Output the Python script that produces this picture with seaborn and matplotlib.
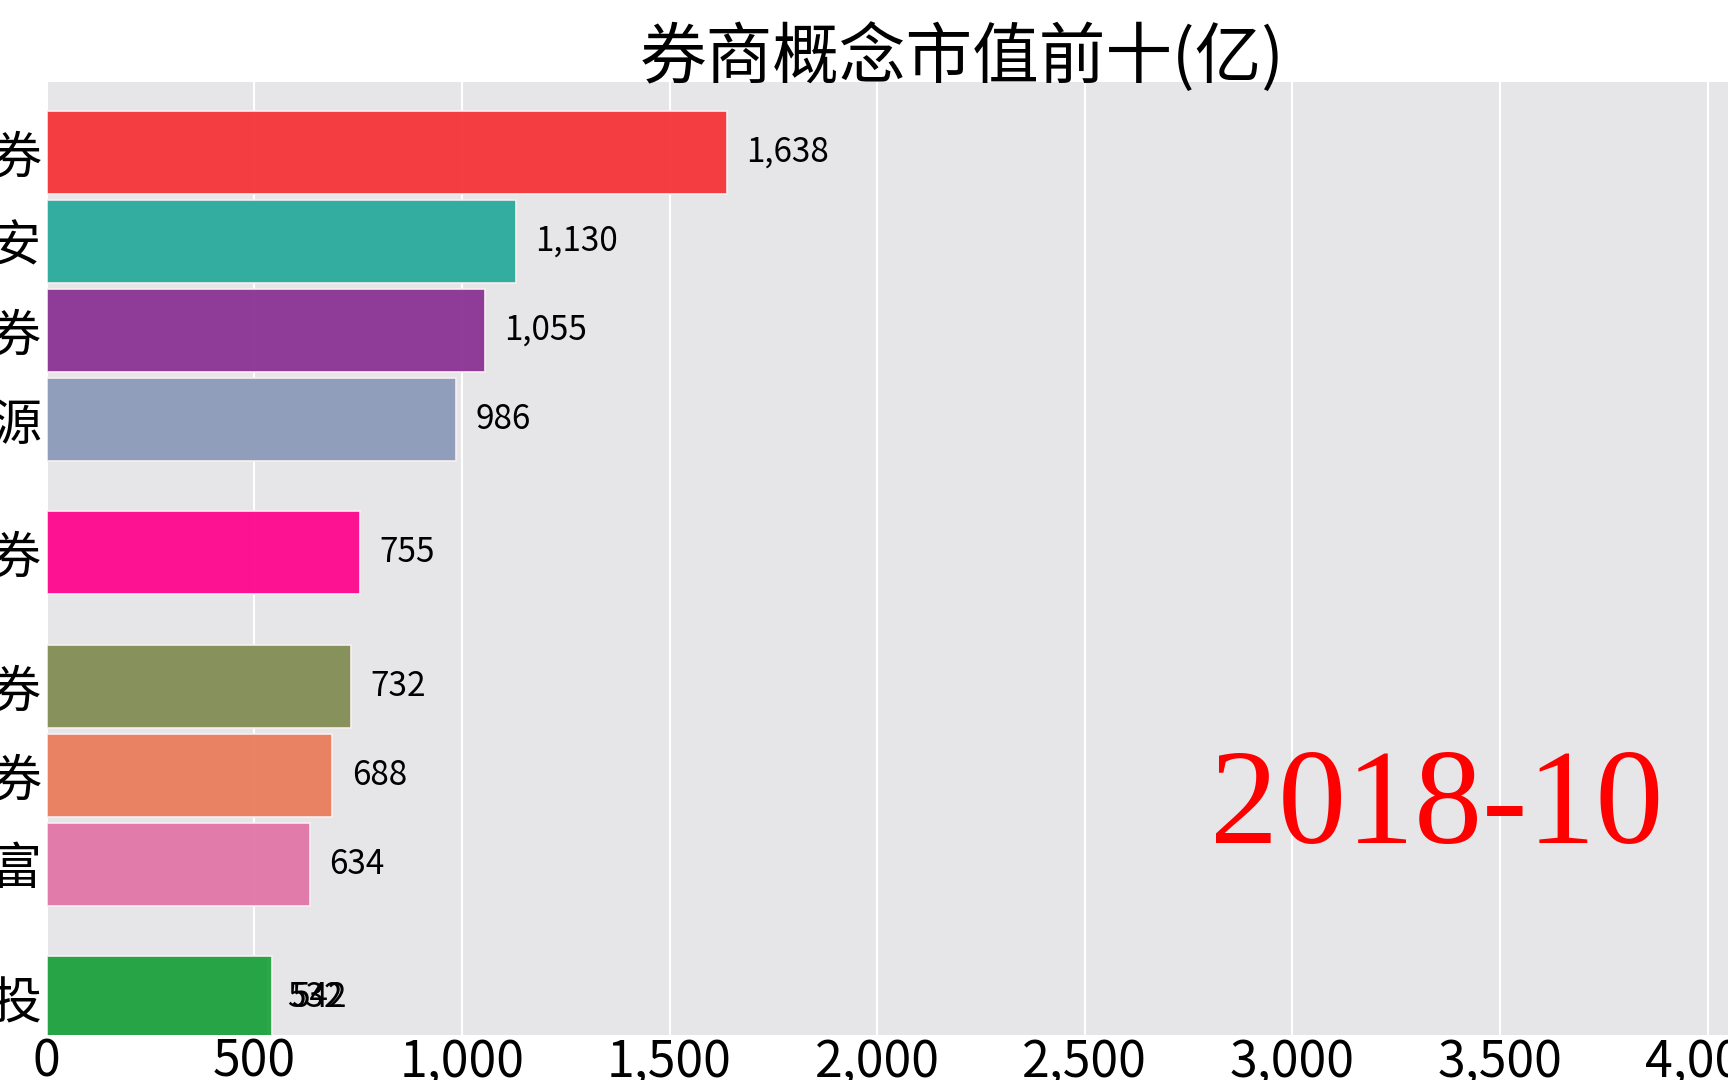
import matplotlib
matplotlib.use("Agg")
import matplotlib.pyplot as plt
import matplotlib.ticker as mticker
from matplotlib import font_manager
import seaborn as sns
import pandas as pd

# ---- data (one animation frame: 2018-10) ----
names = ["中信建投证券", "中信证券", "国泰君安", "海通证券", "申万宏源",
         "华泰证券", "招商证券", "广发证券", "东方财富", "中信建投"]
values = [532, 1638, 1130, 1055, 986, 755, 732, 688, 634, 542]
ranks = [9.5, 0, 1, 2, 3, 4.5, 6, 7, 8, 9.5]   # interpolated rank in the frame
colors = ["#5aa86a", "#f5373b", "#2cab9d", "#8b3696", "#8d9bba",
          "#fe0b8f", "#838e56", "#e97f5e", "#e179a8", "#26a444"]
visible = [False, True, True, True, True, True, True, True, True, True]
title = "券商概念市值前十(亿)"
date_label = "2018-10"
xticks = [0, 500, 1000, 1500, 2000, 2500, 3000, 3500, 4000]

df = pd.DataFrame({"name": names, "value": values, "rank": ranks})

sns.set_theme(style="darkgrid")
plt.rcParams["font.family"] = ["Noto Sans CJK SC", "DejaVu Sans"]
plt.rcParams["axes.unicode_minus"] = False

installed = {f.name for f in font_manager.fontManager.ttflist}
num_family = ["Liberation Sans Narrow", "Noto Sans CJK SC"] if "Liberation Sans Narrow" in installed \
    else ["Noto Sans CJK SC", "DejaVu Sans"]

W, H = 1728, 1080
fig = plt.figure(figsize=(W / 100, H / 100), dpi=100)
ax_left, ax_right, ax_top, ax_bottom = 46.7, 1877, 82, 1035
ax = fig.add_axes([ax_left / W, 1 - ax_bottom / H,
                   (ax_right - ax_left) / W, (ax_bottom - ax_top) / H])
ax.set_facecolor("#e6e6e9")

sns.barplot(data=df, x="value", y="rank", hue="name", hue_order=names,
            palette=colors, saturation=1, orient="h", native_scale=True, dodge=False,
            width=0.935, alpha=0.97, edgecolor="#fbeff0", linewidth=1.2,
            legend=False, ax=ax, zorder=2)

ax.set_xlim(0, (ax_right - ax_left) / 207.6 * 500)
ax.set_ylim(9.92, -0.79)

ax.set_xticks(xticks)
ax.xaxis.set_major_formatter(mticker.FuncFormatter(lambda v, p: f"{v:,.0f}"))
vis_ranks = [r for r, v in zip(ranks, visible) if v]
vis_names = [n for n, v in zip(names, visible) if v]
ax.set_yticks(vis_ranks)
ax.set_yticklabels(vis_names)
ax.tick_params(axis="x", labelsize=36, length=0, pad=1, colors="black")
for lab in ax.get_xticklabels():
    lab.set_family(num_family)
ax.tick_params(axis="y", labelsize=36, length=0, pad=3.4, colors="black")
ax.grid(axis="x", color="white", linewidth=1.5, zorder=0)
ax.grid(axis="y", visible=False)
ax.set_axisbelow(True)
for s in ax.spines.values():
    s.set_visible(False)
ax.set_xlabel("")
ax.set_ylabel("")

for v, r in zip(values, ranks):
    ax.annotate(f"{v:,}", xy=(v, r), xytext=(14, 0), textcoords="offset points",
                ha="left", va="center", fontsize=24, color="black")

ax.set_title(title, fontsize=48, pad=3, color="black")

fig.text(1663 / W, 1 - 843 / H, date_label, ha="right", va="baseline",
         fontsize=98, color="#ff0000", family=["Liberation Serif", "DejaVu Serif"])

fig.savefig("out.png", dpi=100)
